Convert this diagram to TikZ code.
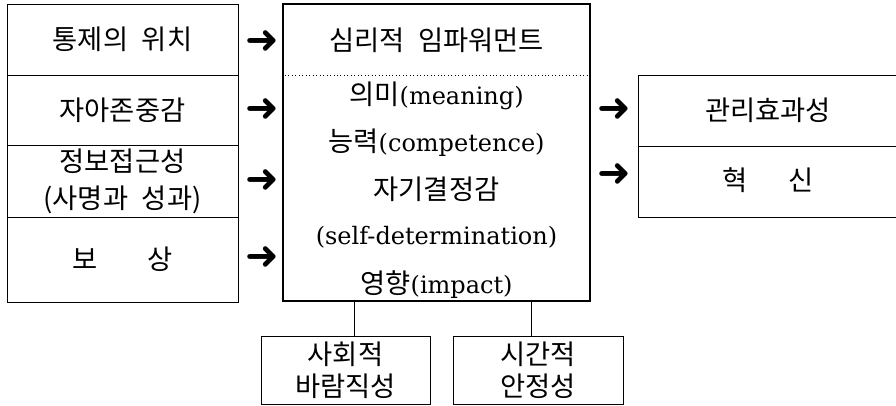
\documentclass[tikz,border=0pt]{standalone}
\usepackage{fontspec}
\setmainfont{DejaVu Serif}
\newfontfamily\krfont{Noto Sans CJK KR}
\newfontfamily\symfont{DejaVu Sans}
\newcommand{\hg}[1]{{\krfont\fontsize{20.5}{24}\selectfont #1}}
\newcommand{\wsp}{\hspace{0.5em}}
\usetikzlibrary{positioning}

\begin{document}
\begin{tikzpicture}[x=0.75pt, y=-0.75pt,
    box/.style={draw, line width=0.7pt, inner sep=0pt, align=center,
        font=\fontsize{20.5}{27.75}\selectfont\krfont},
    ctext/.style={inner sep=0pt, font=\fontsize{18}{22}\selectfont},
    arr/.style={inner sep=0pt, font=\fontsize{30}{30}\selectfont\symfont}]
    \useasboundingbox (0,0) rectangle (896,405);

    % antecedents
    \node[box, minimum width=173.25pt, minimum height=53.25pt] (locus) at (122.5,39.5) {통제의\wsp 위치};
    \node[box, minimum width=173.25pt, minimum height=52.5pt] (esteem) at (122.5,110) {자아존중감};
    \node[box, minimum width=173.25pt, minimum height=54pt] (info) at (122.5,181) {정보접근성\\(사명과\wsp 성과)};
    \node[box, minimum width=173.25pt, minimum height=63.75pt] (reward) at (122.5,259.5) {보\hspace{38pt}상};

    % psychological empowerment
    \node[draw, line width=2.2pt, minimum width=230.25pt, minimum height=222.75pt] (emp) at (436.5,152.5) {};
    \coordinate (sep) at (436.5,75);
    \draw[dotted, line width=0.6pt] (sep -| emp.west) -- (sep -| emp.east);
    \node[ctext] (title) at (436.5,40) {\hg{심리적\wsp 임파워먼트}};
    \node[ctext] (meaning) at (436.5,96) {\hg{의미}(meaning)};
    \node[ctext] (compet) at (436.5,143) {\hg{능력}(competence)};
    \node[ctext] (selfdet) at (436.5,189) {\hg{자기결정감}};
    \node[ctext] (selfdeten) at (436.5,237) {(self-determination)};
    \node[ctext] (impact) at (436.5,285) {\hg{영향}(impact)};

    % outcomes
    \node[box, minimum width=195pt, minimum height=53.25pt] (effect) at (768,110.5) {관리효과성};
    \node[box, minimum width=195pt, minimum height=53.25pt] (innov) at (768,181.5) {\raisebox{4pt}{혁\hspace{31pt}신}};

    % arrows
    \node[arr] (arrA) at (262,42) {➜};
    \node[arr] (arrB) at (262,110) {➜};
    \node[arr] (arrC) at (262,181) {➜};
    \node[arr] (arrD) at (262,258) {➜};
    \node[arr] (arrE) at (614,110) {➜};
    \node[arr] (arrF) at (614,175) {➜};

    % moderators
    \node[box, minimum width=126.75pt, minimum height=51pt] (social) at (345.5,370) {사회적\\[-4pt]바람직성};
    \node[box, minimum width=127.5pt, minimum height=51pt] (stable) at (538,370) {시간적\\[-4pt]안정성};
    \draw[line width=0.7pt] ([xshift=6.4pt]social.north) -- ([xshift=6.4pt]social.north |- emp.south);
    \draw[line width=0.7pt] ([xshift=-5.25pt]stable.north) -- ([xshift=-5.25pt]stable.north |- emp.south);
\end{tikzpicture}
\end{document}
